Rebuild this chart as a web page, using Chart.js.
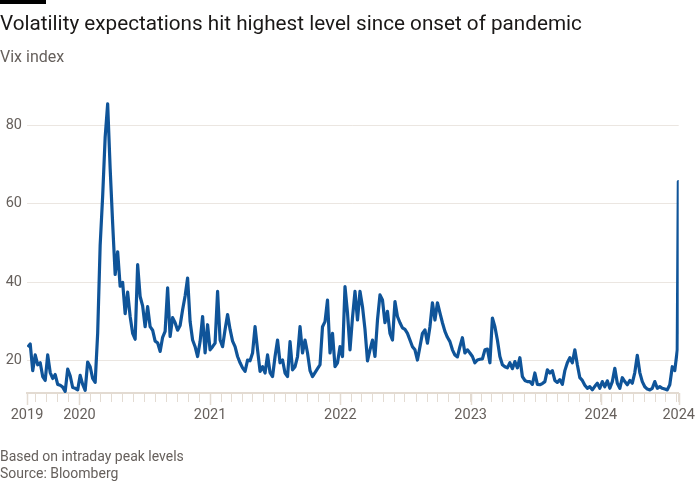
<!DOCTYPE html>
<html>
<head>
<meta charset="utf-8">
<script src="https://cdn.jsdelivr.net/npm/chart.js@4.4.1/dist/chart.umd.min.js"></script>
<style>
  body { margin: 0; background: #fff; }
  #wrap { position: relative; width: 700px; height: 500px; overflow: hidden; font-family: Roboto, "Noto Sans", sans-serif; }
  #bar { position: absolute; left: 0; top: 0; width: 46px; height: 4px; background: #000; }
  #title { position: absolute; left: 0; top: 11px; margin: 0; font-size: 20.7px; font-weight: 400; color: #1a1817; white-space: nowrap; }
  #subtitle { position: absolute; left: 0; top: 47px; font-size: 16px; color: #66605c; }
  #notes { position: absolute; left: 0; top: 448px; font-size: 14px; line-height: 17px; color: #66605c; }
  canvas { position: absolute; left: 0; top: 0; }
</style>
</head>
<body>
<div id="wrap">
  <canvas id="vix" width="700" height="500"></canvas>
  <div id="bar"></div>
  <h1 id="title">Volatility expectations hit highest level since onset of pandemic</h1>
  <div id="subtitle">Vix index</div>
  <div id="notes">Based on intraday peak levels<br>Source: Bloomberg</div>
</div>
<script>
// Weekly intraday highs, one value per Friday starting from weekStart
const weekStart = '2019-08-09';
const weeklyHighs = [
    23.5, 24.3, 17.5, 21.5, 19, 19.5, 16, 15, 21.5, 17,
    15.5, 16.5, 14, 13.8, 13.3, 12.2, 17.9, 16.2, 13.2, 13,
    12.6, 16.3, 14, 12.5, 19.7, 18.5, 15.5, 14.5, 27, 49.5,
    62, 77, 85.5, 69, 55, 42, 47.8, 39, 40, 32,
    37.5, 31.3, 27, 25.5, 44.5, 36.4, 34, 28.7, 33.8, 28.7,
    27.8, 25, 24.6, 22.4, 26, 27.5, 38.6, 26.2, 31, 29.7,
    27.8, 29, 33, 36.5, 41.1, 30, 25.3, 23.6, 21.1, 24.9,
    31.3, 22, 29.2, 22.8, 23.6, 24.5, 37.7, 25.3, 23.6, 28,
    31.8, 28, 25, 23.6, 21.1, 19.5, 18.2, 17.3, 20.2, 20,
    22, 28.7, 22.8, 17.3, 18.5, 16.9, 21.5, 17, 16, 21.1,
    25.3, 19.5, 20.2, 16.9, 16, 24.9, 17.7, 18.5, 21.1, 28.7,
    22, 25.3, 22, 17.5, 16, 17, 18, 19, 28.7, 30,
    35.5, 22, 27, 18.5, 19.5, 23.6, 21.1, 38.9, 32.2, 22.8,
    31, 37.7, 30.4, 37.7, 33.8, 28, 20, 22.8, 25.3, 21.1,
    30.4, 36.8, 35.5, 29.7, 32.6, 27, 25.3, 35.1, 31.3, 29.7,
    28.4, 28, 27, 25.3, 23.6, 22.8, 20.2, 23.6, 27, 27.9,
    24.5, 28.7, 34.8, 30.4, 34.8, 32.2, 29.7, 27.5, 26, 24.9,
    22.8, 21.5, 21, 23.6, 25.9, 22, 22.8, 22, 21.1, 19.5,
    20.2, 20.4, 20.5, 22.8, 23, 19.5, 30.9, 28.7, 25.3, 21.1,
    19, 18.5, 18.2, 19.5, 18, 19.8, 18.2, 20.8, 16, 15,
    14.7, 14.7, 14, 16.9, 14, 13.9, 14.2, 14.7, 17.7, 16.9,
    17.5, 15, 14.5, 15.2, 14, 17.5, 19.5, 20.8, 19.5, 22.8,
    19, 15.7, 15, 13.8, 13, 13.4, 12.6, 13.5, 14.3, 13,
    14.7, 13.4, 14.9, 13, 14.7, 18.1, 14.3, 13, 15.7, 14.7,
    13.9, 15, 14.3, 17, 21.4, 17, 14.7, 13.4, 12.8, 12.6,
    13, 14.7, 13, 13.4, 13, 12.8, 12.6, 13.9, 18.5, 17.5,
    22.8
];
// Final daily readings of the August 2024 spike
const lastDays = ['2024-08-05', '2024-08-06'];
const lastValues = [65.7, 34.5];

const axisStart = '2019-08-07';
const axisEnd = '2024-08-06';
const yearTicks = ['2020-01-01', '2021-01-01', '2022-01-01', '2023-01-01', '2024-01-01'];
const yTicks = [20, 40, 60, 80];

const DAY = 864e5;
const xMin = Date.parse(axisStart);
const xMax = Date.parse(axisEnd);
const yearValues = yearTicks.map(d => Date.parse(d));

// Build the point list for the line
const points = weeklyHighs.map((v, i) => ({ x: Date.parse(weekStart) + i * 7 * DAY, y: v }));
lastDays.forEach((d, i) => points.push({ x: Date.parse(d), y: lastValues[i] }));

// Monthly tick marks plus both ends of the axis
function monthTicks() {
    const ticks = [xMin];
    const s = new Date(xMin);
    let y = s.getUTCFullYear(), m = s.getUTCMonth() + 1;
    while (true) {
        const t = Date.UTC(y, m, 1);
        if (t >= xMax) break;
        ticks.push(t);
        m++;
        if (m > 11) { m = 0; y++; }
    }
    ticks.push(xMax);
    return ticks;
}

const gridColour = '#ebe6e1';
const axisColour = '#e3dbd2';
const textColour = '#66605c';

// Longer tick marks at the start of each year
const yearTickPlugin = {
    id: 'yearTicks',
    afterDraw(chart) {
        const xs = chart.scales.x;
        const ctx = chart.ctx;
        const bottom = chart.chartArea.bottom;
        ctx.save();
        ctx.strokeStyle = axisColour;
        ctx.lineWidth = 1.5;
        [xMin, xMax].concat(yearValues).forEach(v => {
            const px = Math.round(xs.getPixelForValue(v)) + 0.5;
            ctx.beginPath();
            ctx.moveTo(px, bottom);
            ctx.lineTo(px, bottom + 12);
            ctx.stroke();
        });
        ctx.restore();
    }
};

new Chart(document.getElementById('vix').getContext('2d'), {
    type: 'line',
    data: {
        datasets: [{
            label: 'Vix index',
            data: points,
            borderColor: '#0f5499',
            borderWidth: 3.2,
            pointRadius: 0,
            tension: 0,
            borderJoinStyle: 'round',
            fill: false
        }]
    },
    options: {
        responsive: false,
        animation: false,
        layout: { padding: { left: 0, right: 21, top: 94, bottom: 72 } },
        plugins: {
            legend: { display: false },
            tooltip: { enabled: false }
        },
        scales: {
            x: {
                type: 'linear',
                min: xMin,
                max: xMax,
                afterBuildTicks: function(scale) {
                    scale.ticks = monthTicks().map(v => ({ value: v }));
                },
                afterFit: function(scale) { scale.height = 35; },
                border: { display: true, color: axisColour, width: 2 },
                grid: {
                    drawOnChartArea: false,
                    drawTicks: true,
                    tickLength: 9,
                    color: axisColour
                },
                ticks: {
                    autoSkip: false,
                    maxRotation: 0,
                    padding: 5,
                    color: textColour,
                    font: { family: 'Roboto', size: 14.5 },
                    callback: function(value) {
                        if (value === xMin) return '2019';
                        if (value === xMax) return '2024';
                        if (yearValues.includes(value)) return String(new Date(value).getUTCFullYear());
                        return '';
                    }
                }
            },
            y: {
                min: 11.8,
                max: 88,
                afterBuildTicks: function(scale) {
                    scale.ticks = yTicks.map(v => ({ value: v }));
                },
                afterFit: function(scale) { scale.width = 27; },
                border: { display: false },
                grid: { color: gridColour, drawTicks: false, lineWidth: 1 },
                ticks: {
                    padding: 5,
                    color: textColour,
                    font: { family: 'Roboto', size: 14.5 }
                }
            }
        }
    },
    plugins: [yearTickPlugin]
});
</script>
</body>
</html>
